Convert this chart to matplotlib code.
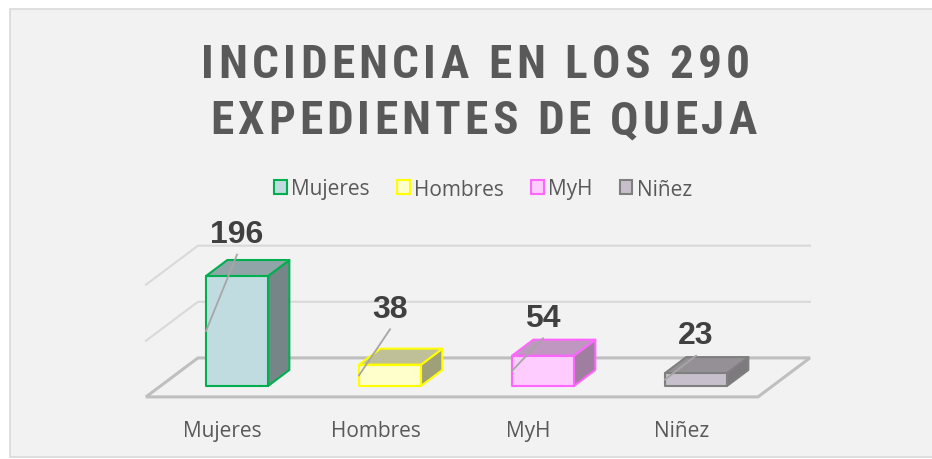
import matplotlib
matplotlib.use("Agg")
import os
import matplotlib.pyplot as plt
from matplotlib import font_manager
from matplotlib.font_manager import FontProperties
from matplotlib.patches import Patch, Polygon, Rectangle

categories = ["Mujeres", "Hombres", "MyH", "Niñez"]
counts = [196, 38, 54, 23]
title_lines = ["INCIDENCIA EN LOS 290", "EXPEDIENTES DE QUEJA"]
grid_values = [0, 100, 200]

front_colors = ["#c0dce0", "#ffffcc", "#ffccff", "#c7bfcb"]
top_colors = ["#91a5a8", "#c0c098", "#c097c0", "#958f96"]
side_colors = ["#768588", "#a0a078", "#a07ea0", "#7e787f"]
edge_colors = ["#00b050", "#ffff00", "#ff66ff", "#7f7f7f"]
label_lift = [75, 100, 68, 68]  # label centre above bar top, value units

W, H = 932, 460
TEXT = "#595959"
LABEL_FONT = "Open Sans"

# pseudo-3D projection: depth d in [0, 1] from floor front to back wall
D_FRONT, D_BACK = 0.28, 0.69
DX, DY = 52 / 153, 39 / 0.5612
HW = 31 / 153


def proj(i, v, d):
    return (i + (d - D_FRONT) * DX, v + (d - D_FRONT) * DY)


fig = plt.figure(figsize=(W / 100, H / 100), dpi=100)
fig.patch.set_facecolor("white")
fig.add_artist(Rectangle((10 / W, 2 / H), 1.0, 448.5 / H, transform=fig.transFigure,
                         facecolor="#f2f2f2", edgecolor="#d9d9d9", linewidth=1.2, zorder=0))

ax = fig.add_axes([0, 0, 1, 1])
ax.patch.set_visible(False)
ax.axis("off")
ax.set_xlim(-237 / 153, (W - 237) / 153)
ax.set_ylim(-(H - 387) / 0.5612, 387 / 0.5612)

x_lo, x_hi = -0.5, len(categories) - 0.5

# back wall and side wall gridlines
for g in grid_values[1:]:
    xs, ys = zip(proj(x_lo, g, 0), proj(x_lo, g, 1), proj(x_hi, g, 1))
    ax.plot(xs, ys, color="#d9d9d9", lw=1.5, zorder=1)

floor = [proj(x_lo, 0, 0), proj(x_hi, 0, 0), proj(x_hi, 0, 1), proj(x_lo, 0, 1)]
ax.add_patch(Polygon(floor, closed=True, facecolor="none", edgecolor="#bfbfbf", lw=2.2, zorder=2))

for i, v in enumerate(counts):
    front = [proj(i - HW, 0, D_FRONT), proj(i + HW, 0, D_FRONT),
             proj(i + HW, v, D_FRONT), proj(i - HW, v, D_FRONT)]
    top = [proj(i - HW, v, D_FRONT), proj(i + HW, v, D_FRONT),
           proj(i + HW, v, D_BACK), proj(i - HW, v, D_BACK)]
    side = [proj(i + HW, 0, D_FRONT), proj(i + HW, 0, D_BACK),
            proj(i + HW, v, D_BACK), proj(i + HW, v, D_FRONT)]
    for poly, fc in ((side, side_colors[i]), (top, top_colors[i]), (front, front_colors[i])):
        ax.add_patch(Polygon(poly, closed=True, facecolor=fc, edgecolor=edge_colors[i],
                             lw=1.5, joinstyle="round", zorder=3))

    ly = v + label_lift[i]
    ax.plot([i, i - HW], [ly - 37, v / 2], color="#a6a6a6", lw=1.3, zorder=4)
    ax.text(i, ly, str(v), ha="center", va="center", fontsize=23, fontweight="bold",
            family="Liberation Sans", color="#404040", zorder=5)

    fx, fy = proj(i, 0, 0)
    ax.text(fx, fy - 59, categories[i], ha="center", va="center", fontsize=15,
            family=LABEL_FONT, color=TEXT)

handles = [Patch(facecolor=front_colors[k], edgecolor=edge_colors[k], lw=1.5, label=c)
           for k, c in enumerate(categories)]
fig.legend(handles=handles, loc="center", bbox_to_anchor=(483 / W, 1 - 190 / H), ncol=4,
           frameon=False, prop=FontProperties(family=LABEL_FONT, size=15), labelcolor=TEXT,
           handlelength=0.62, handleheight=0.62, handletextpad=0.2, columnspacing=1.3)


# title: narrow bold face if one is installed, else Lato a bit smaller
def pick_title_font():
    for fam in ["Liberation Sans Narrow", "Roboto Condensed", "Open Sans Condensed",
                "Noto Sans Display", "DejaVu Sans"]:
        fp = FontProperties(family=fam, weight="bold", stretch="condensed", size=34)
        try:
            path = font_manager.findfont(fp, fallback_to_default=False)
        except ValueError:
            continue
        name = os.path.basename(path).lower()
        if "condensed" in name or "narrow" in name or "semicond" in name:
            return fp
    return FontProperties(family="Lato", weight="bold", size=30)


tprop = pick_title_font()
renderer = fig.canvas.get_renderer()


def width(s):
    return renderer.get_text_width_height_descent(s, tprop, ismath=False)[0]


def spaced_title(text, x_left, x_right, baseline):
    ref = width("|")
    offs = [width(text[:k] + "|") - ref for k in range(len(text) + 1)]
    spacing = max(((x_right - x_left) - offs[-1]) / (len(text) - 1), 0)
    total = offs[-1] + spacing * (len(text) - 1)
    x0 = (x_left + x_right) / 2 - total / 2
    for k, ch in enumerate(text):
        if ch == " ":
            continue
        fig.text((x0 + offs[k] + k * spacing) / W, 1 - baseline / H, ch,
                 fontproperties=tprop, color=TEXT, ha="left", va="baseline")


spaced_title(title_lines[0], 201, 750, 78)
spaced_title(title_lines[1], 210, 757, 134)

fig.savefig("out.png", dpi=100)
